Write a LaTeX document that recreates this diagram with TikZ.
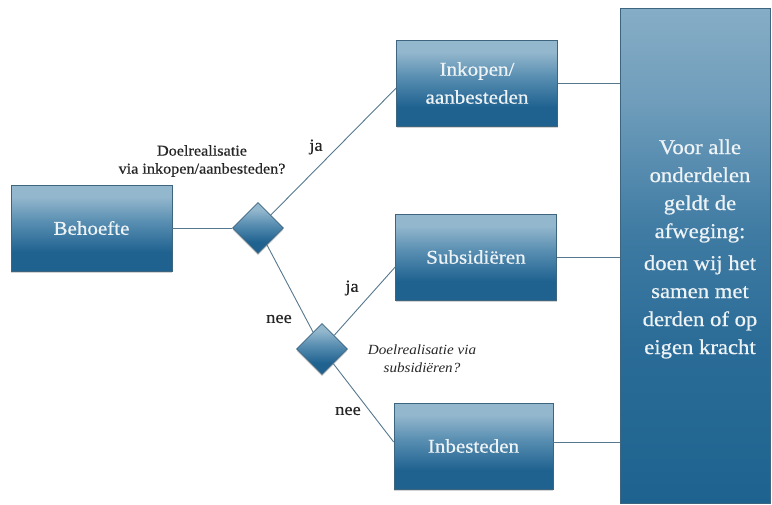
\documentclass[tikz,border=0pt]{standalone}
\usepackage{fontspec}
\setmainfont{Liberation Serif}[FakeStretch=1.08]
\newfontfamily\heavyfont{Liberation Serif}[FakeStretch=1.08, FakeBold=0.6]
\usetikzlibrary{shapes.geometric,shadows}
\definecolor{bdark}{HTML}{1F6290}
\definecolor{bmid}{HTML}{5A8FB2}
\definecolor{blight}{HTML}{93B7CD}
\definecolor{gA}{HTML}{86ADC6}
\definecolor{gB}{HTML}{6F9DBB}
\definecolor{gC}{HTML}{3F7BA3}
\definecolor{gD}{HTML}{2A6C97}
\definecolor{gE}{HTML}{1E6390}
\definecolor{edge}{HTML}{3D6580}
\definecolor{conn}{HTML}{56788E}
\definecolor{boxtext}{HTML}{EEF3F6}
\definecolor{labeltext}{HTML}{262626}
\pgfdeclareverticalshading{boxshade}{100bp}{color(0bp)=(bdark); color(25bp)=(bdark); color(36bp)=(bdark); color(54bp)=(bmid); color(68bp)=(blight); color(100bp)=(blight)}
\pgfdeclareverticalshading{bigshade}{100bp}{color(0bp)=(gE); color(25bp)=(gE); color(40.5bp)=(gD); color(52.5bp)=(gC); color(65.5bp)=(gB); color(75bp)=(gA); color(100bp)=(gA)}
\tikzset{
  stagebox/.style={rectangle, draw=edge, line width=0.6pt, shading=boxshade,
    minimum width=161pt, minimum height=86pt, inner sep=0pt, align=center,
    text=boxtext, font=\heavyfont\fontsize{19.5}{28}\selectfont,
    drop shadow={shadow xshift=0pt, shadow yshift=-2pt, opacity=0.35}},
  choice/.style={diamond, draw=edge, line width=0.6pt, shading=boxshade,
    minimum width=51pt, minimum height=51pt, inner sep=0pt,
    drop shadow={shadow xshift=0pt, shadow yshift=-2pt, opacity=0.3}},
  bigbox/.style={rectangle, draw=edge, line width=0.6pt, shading=bigshade,
    minimum width=150pt, minimum height=495pt, inner sep=0pt},
  bigtext/.style={align=center, text=boxtext, inner sep=0pt,
    font=\heavyfont\fontsize{21}{28}\selectfont},
  question/.style={align=center, text=labeltext, inner sep=0pt,
    font=\heavyfont\fontsize{15}{18}\selectfont},
  answer/.style={text=labeltext, inner sep=0pt, font=\heavyfont\fontsize{17}{20}\selectfont},
  conline/.style={draw=conn, line width=0.9pt}
}
\begin{document}
\begin{tikzpicture}[x=1pt,y=-1pt]
\useasboundingbox (0,0) rectangle (772,504);
% boxes
\node[stagebox] (beh) at (91.5,228) {Behoefte};
\node[stagebox] (ink) at (477,83) {Inkopen/\\aanbesteden};
\node[stagebox] (sub) at (476,257) {Subsidiëren};
\node[stagebox, minimum width=159pt] (inb) at (473.5,446) {Inbesteden};
\node[bigbox] (big) at (695,255.5) {};
\node[bigtext] (bigtxt) at (700,249) {Voor alle\\onderdelen\\geldt de\\afweging:\\[4pt]doen wij het\\samen met\\derden of op\\eigen kracht};
% decisions
\node[choice] (d1) at (258,228) {};
\node[choice] (d2) at (322,349) {};
% connectors
\draw[conline] (beh.east) -- (d1.west);
\draw[conline] (d1) -- ([yshift=-5pt]ink.west);
\draw[conline] (d1) -- (d2);
\draw[conline] (d2) -- ([yshift=-10pt]sub.west);
\draw[conline] (d2) -- ([yshift=4pt]inb.west);
\draw[conline] (ink.east) -- (ink.east -| big.west);
\draw[conline] (sub.east) -- (sub.east -| big.west);
\draw[conline] ([yshift=4pt]inb.east) -- ([yshift=4pt]inb.east -| big.west);
% labels
\node[question] (q1) at (202,161) {Doelrealisatie\\via inkopen/aanbesteden?};
\node[question, font=\itshape\fontsize{14}{18}\selectfont] (q2) at (422,359) {Doelrealisatie via\\subsidiëren?};
\node[answer] (ja1) at (316,147) {ja};
\node[answer] (ja2) at (352,288) {ja};
\node[answer] (nee1) at (279,319) {nee};
\node[answer] (nee2) at (348,411) {nee};
\end{tikzpicture}
\end{document}
